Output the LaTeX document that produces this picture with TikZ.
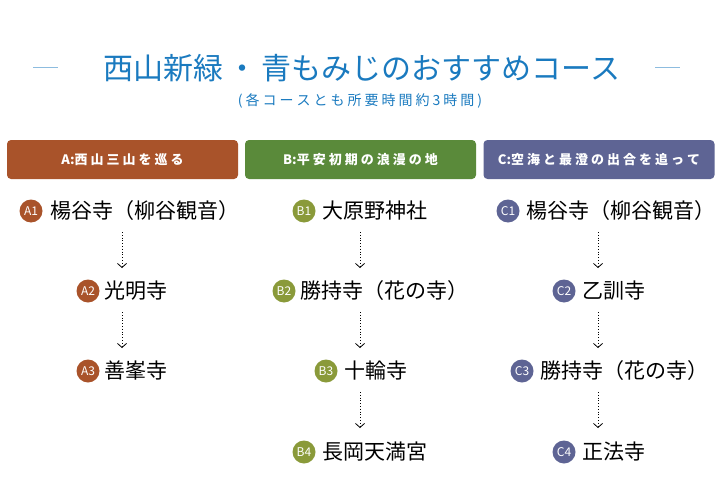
\documentclass[tikz,border=0pt]{standalone}
\usepackage{fontspec}
\setmainfont{Noto Sans CJK JP}
\usetikzlibrary{arrows.meta}
\definecolor{ca}{HTML}{A9532A}
\definecolor{cb}{HTML}{5A8A3A}
\definecolor{cbb}{HTML}{8A9A3A}
\definecolor{cc}{HTML}{5E6494}
\definecolor{ttl}{HTML}{1A7ABF}
\newcommand{\gsp}{\hspace{3pt}}
\begin{document}
\begin{tikzpicture}[x=1pt,y=-1pt,
  hdr/.style={draw=none,fill=#1,rounded corners=4pt,minimum width=231pt,minimum height=39pt,text=white,font=\fontsize{13}{15}\selectfont\bfseries,inner sep=0pt},
  bdg/.style={circle,fill=#1,text=white,minimum size=23pt,inner sep=0pt,font=\fontsize{12}{12}\selectfont},
  itm/.style={anchor=west,font=\fontsize{21}{23}\selectfont,inner sep=0pt},
  arr/.style={draw=black,dotted,thick,-{Straight Barb[length=4pt,width=9pt]}}]
\useasboundingbox (0,0) rectangle (720,503);
\node[text=ttl,font=\fontsize{30}{34}\selectfont] (t) at (362,68) {西山新緑\hspace{4pt}・\hspace{4pt}青もみじのおすすめコース};
\draw[ttl!50,line width=1pt] (33,68) -- (58,68) (655,68) -- (680,68);
\node[text=ttl,font=\fontsize{14}{16}\selectfont] (st) at (360,101) {(\gsp 各\gsp コ\gsp ー\gsp ス\gsp と\gsp も\gsp 所\gsp 要\gsp 時\gsp 間\gsp 約\gsp 3\gsp 時\gsp 間\gsp)};
\node[hdr=ca] (ha) at (122.5,159.5) {A:西\gsp 山\gsp 三\gsp 山\gsp を\gsp 巡\gsp る};
\node[hdr=cb] (hb) at (360.5,159.5) {B:平\gsp 安\gsp 初\gsp 期\gsp の\gsp 浪\gsp 漫\gsp の\gsp 地};
\node[hdr=cc] (hc) at (599,159.5) {C:空\gsp 海\gsp と\gsp 最\gsp 澄\gsp の\gsp 出\gsp 合\gsp を\gsp 追\gsp っ\gsp て};
% A
\node[bdg=ca] (a1b) at (31,211) {A1}; \node[itm] (a1) at (50,211) {楊谷寺（柳谷観音）};
\node[bdg=ca] (a2b) at (88,291) {A2}; \node[itm] (a2) at (104,291) {光明寺};
\node[bdg=ca] (a3b) at (88,371) {A3}; \node[itm] (a3) at (104,371) {善峯寺};
\coordinate (ax1) at (122,232); \coordinate (ax2) at (122,268);
\coordinate (ax3) at (122,312); \coordinate (ax4) at (122,348);
\draw[arr] (ax1) -- (ax2); \draw[arr] (ax3) -- (ax4);
% B
\node[bdg=cbb] (b1b) at (304,211) {B1}; \node[itm] (b1) at (322,211) {大原野神社};
\node[bdg=cbb] (b2b) at (284,291) {B2}; \node[itm] (b2) at (300,291) {勝持寺（花の寺）};
\node[bdg=cbb] (b3b) at (326,371) {B3}; \node[itm] (b3) at (344,371) {十輪寺};
\node[bdg=cbb] (b4b) at (304,452) {B4}; \node[itm] (b4) at (322,452) {長岡天満宮};
\foreach \i/\y in {1/232,2/312,3/392}{\coordinate (bs\i) at (360,\y); \coordinate (be\i) at (360,\y+36); \draw[arr] (bs\i) -- (be\i);}
% C
\node[bdg=cc] (c1b) at (508,211) {C1}; \node[itm] (c1) at (526,211) {楊谷寺（柳谷観音）};
\node[bdg=cc] (c2b) at (564,291) {C2}; \node[itm] (c2) at (582,291) {乙訓寺};
\node[bdg=cc] (c3b) at (522,371) {C3}; \node[itm] (c3) at (540,371) {勝持寺（花の寺）};
\node[bdg=cc] (c4b) at (564,452) {C4}; \node[itm] (c4) at (582,452) {正法寺};
\foreach \i/\y in {1/232,2/312,3/392}{\coordinate (cs\i) at (598,\y); \coordinate (ce\i) at (598,\y+36); \draw[arr] (cs\i) -- (ce\i);}
\end{tikzpicture}
\end{document}
